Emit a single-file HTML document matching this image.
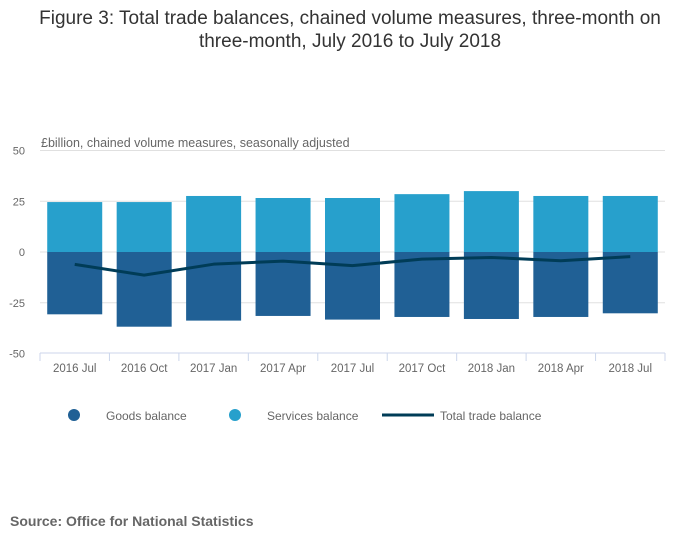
<!DOCTYPE html>
<html><head><meta charset="utf-8"><style>
body{margin:0;background:#fff;width:700px;height:549px;overflow:hidden;font-family:"Liberation Sans",sans-serif}
</style></head><body>
<svg width="700" height="549" xmlns="http://www.w3.org/2000/svg">
<text x="350" y="24" text-anchor="middle" font-size="19" fill="#333">Figure 3: Total trade balances, chained volume measures, three-month on</text>
<text x="350" y="47" text-anchor="middle" font-size="19" fill="#333">three-month, July 2016 to July 2018</text>
<text x="41" y="147" font-size="12.5" fill="#666">£billion, chained volume measures, seasonally adjusted</text>
<g id="grid"></g><g id="bars"></g><g id="line"></g><g id="xaxis"></g>
<g>
<circle cx="74" cy="415" r="6" fill="#206095"/>
<text x="106" y="420" font-size="12" fill="#666">Goods balance</text>
<circle cx="235" cy="415" r="6" fill="#27a0cc"/>
<text x="267" y="420" font-size="12" fill="#666">Services balance</text>
<line x1="382" y1="415" x2="434" y2="415" stroke="#003c57" stroke-width="3"/>
<text x="440" y="420" font-size="12" fill="#666">Total trade balance</text>
</g>
<text x="10" y="526" font-size="14" font-weight="bold" fill="#666">Source: Office for National Statistics</text>
</svg>
<script>
const categories=["2016 Jul","2016 Oct","2017 Jan","2017 Apr","2017 Jul","2017 Oct","2018 Jan","2018 Apr","2018 Jul"];
const services=[24.6,24.6,27.6,26.6,26.6,28.5,30,27.6,27.6];
const goods=[-30.7,-36.8,-33.8,-31.5,-33.3,-32,-33,-32,-30.2];
const total=[-6.1,-11.4,-6,-4.5,-6.7,-3.5,-2.7,-4.3,-2.3];
const yTicks=[50,25,0,-25,-50];
const NS="http://www.w3.org/2000/svg";
const L=40,R=665,step=(R-L)/categories.length,bw=55;
const y=v=>252-v*2.03;
const xc=i=>L+step*(i+0.5);
function mk(t,a,p){const e=document.createElementNS(NS,t);for(const k in a)e.setAttribute(k,a[k]);document.getElementById(p).appendChild(e);return e;}
yTicks.forEach(t=>{
 if(t!==-50){const g=mk('line',{x1:L,x2:R,y1:y(t),y2:y(t),stroke:'#e0e0e0'},'grid');
 
 }
 const tx=mk('text',{x:25,y:y(t)+4,'text-anchor':'end','font-size':11,fill:'#666'},'grid');tx.textContent=t;
 
 
});
categories.forEach((c,i)=>{
 const s=mk('rect',{x:xc(i)-bw/2,y:y(services[i]),width:bw,height:y(0)-y(services[i]),fill:'#27a0cc'},'bars');
 
 
 const g=mk('rect',{x:xc(i)-bw/2,y:y(0),width:bw,height:y(goods[i])-y(0),fill:'#206095'},'bars');
 
 
 const tk=mk('line',{x1:L+step*i,x2:L+step*i,y1:353,y2:361,stroke:'#ccd6eb'},'xaxis');
 
 
 const lb=mk('text',{x:xc(i),y:372,'text-anchor':'middle','font-size':11.5,fill:'#666'},'xaxis');lb.textContent=c;
 
 
});
const tk=mk('line',{x1:R,x2:R,y1:353,y2:361,stroke:'#ccd6eb'},'xaxis');


const ax=mk('line',{x1:L,x2:R,y1:353,y2:353,stroke:'#ccd6eb'},'xaxis');


const pl=mk('polyline',{points:total.map((v,i)=>xc(i)+','+y(v)).join(' '),fill:'none',stroke:'#003c57','stroke-width':3,'stroke-linejoin':'round'},'line');


</script>
</body></html>
